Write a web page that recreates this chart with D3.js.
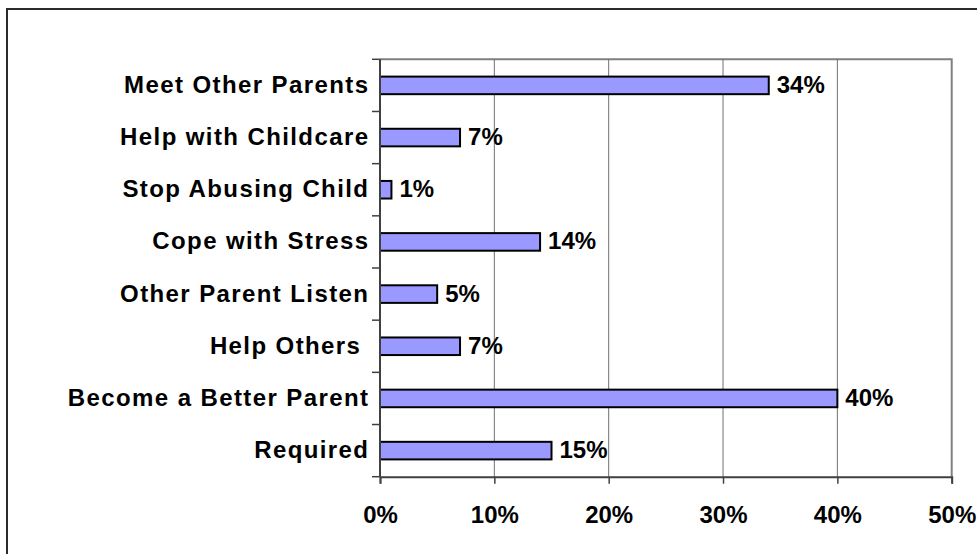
<!DOCTYPE html>
<html>
<head>
<meta charset="utf-8">
<script src="https://cdn.jsdelivr.net/npm/d3@7"></script>
<style>
  html, body { margin: 0; padding: 0; background: #fff; }
  svg { display: block; }
  text { font-family: "Liberation Sans", Arial, sans-serif; font-weight: bold; white-space: pre; }
</style>
</head>
<body>
<svg id="chart" width="977" height="554"></svg>
<script>
const categories = ["Meet Other Parents", "Help with Childcare", "Stop Abusing Child", "Cope with Stress",
  "Other Parent Listen", "Help Others ", "Become a Better Parent", "Required"];
const values = [34, 7, 1, 14, 5, 7, 40, 15];
const tickValues = [0, 10, 20, 30, 40, 50];

const svg = d3.select("#chart");
const pLeft = 380, pRight = 951.7, pTop = 59.3, pBottom = 476.7;

// outer frame
svg.append("rect").attr("x", 7).attr("y", 9).attr("width", 1000).attr("height", 600)
  .attr("fill", "#fff").attr("stroke", "#2b2b2b").attr("stroke-width", 2);

const x = d3.scaleLinear().domain([0, 50]).range([pLeft, pRight]);
const y = d3.scaleBand().domain(categories).range([pTop, pBottom]).padding(0);
const barH = y.bandwidth() * 0.337;

// plot border (top/right)
svg.append("path").attr("d", `M${pLeft},${pTop}H${pRight}V${pBottom}`)
  .attr("fill", "none").attr("stroke", "#808080").attr("stroke-width", 2);

// gridlines
svg.append("g").selectAll("line").data(tickValues.slice(1, -1)).join("line")
  .attr("x1", d => x(d)).attr("x2", d => x(d)).attr("y1", pTop).attr("y2", pBottom)
  .attr("stroke", "#707070").attr("stroke-width", 1);

// bars
svg.append("g").selectAll("rect").data(values).join("rect")
  .attr("x", x(0)).attr("y", (d, i) => y(categories[i]) + (y.bandwidth() - barH) / 2)
  .attr("width", d => x(d) - x(0)).attr("height", barH)
  .attr("fill", "#9999FF").attr("stroke", "#000").attr("stroke-width", 2);

// value labels
svg.append("g").selectAll("text").data(values).join("text")
  .attr("x", d => x(d) + 8).attr("y", (d, i) => y(categories[i]) + y.bandwidth() / 2 + 7.5)
  .attr("font-size", 24).attr("fill", "#000").text(d => d + "%");

// bottom axis
const xAxis = d3.axisBottom(x).tickValues(tickValues).tickSize(7).tickFormat(d => d + "%");
const gx = svg.append("g").attr("transform", `translate(0,${pBottom})`).call(xAxis);
gx.attr("font-family", null).attr("font-size", null);
gx.select(".domain").attr("stroke", "#404040").attr("stroke-width", 2);
gx.selectAll(".tick line").attr("stroke", "#404040").attr("stroke-width", 1.5);
gx.selectAll(".tick text").attr("font-size", 24).attr("fill", "#000")
  .attr("y", 29).attr("dy", "0.72em");

// left axis
const boundaries = d3.range(categories.length + 1).map(i => pTop + i * y.step());
const gy = svg.append("g");
gy.append("line").attr("x1", pLeft).attr("x2", pLeft).attr("y1", pTop).attr("y2", pBottom)
  .attr("stroke", "#404040").attr("stroke-width", 2);
gy.selectAll("line.t").data(boundaries).join("line").attr("class", "t")
  .attr("x1", pLeft - 8).attr("x2", pLeft).attr("y1", d => d).attr("y2", d => d)
  .attr("stroke", "#404040").attr("stroke-width", 1.5);
gy.selectAll("text").data(categories).join("text")
  .attr("x", pLeft - 10.6).attr("y", d => y(d) + y.bandwidth() / 2 + 7.5)
  .attr("text-anchor", "end").attr("font-size", 24).attr("letter-spacing", 1.4).attr("fill", "#000")
  .text(d => d);
</script>
</body>
</html>
